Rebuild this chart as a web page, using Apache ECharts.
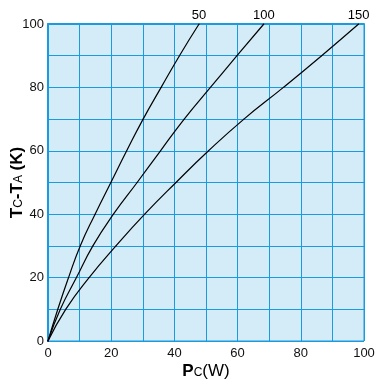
<!DOCTYPE html>
<html>
<head>
<meta charset="utf-8">
<script src="https://cdn.jsdelivr.net/npm/echarts@6/dist/echarts.min.js"></script>
<style>html,body{margin:0;padding:0;background:#fff}#c{width:390px;height:386px}</style>
</head>
<body>
<div id="c"></div>
<script>
var xTicks = [0, 20, 40, 60, 80, 100];
var yTicks = [0, 20, 40, 60, 80, 100];
var curveNames = ['50', '100', '150'];
var curve50X  = [0, 3.1, 6.5, 10.2, 14.9, 19.9, 24.9, 30.1, 35.8, 41.6, 47.8];
var curve50Y  = [0, 10, 20, 30, 40, 50, 60, 70, 80, 90, 100];
var curve100X = [0, 3.9, 9, 14.2, 20.7, 28.2, 35.6, 43.1, 51.4, 59.8, 68.3];
var curve100Y = [0, 10, 20, 30, 40, 50, 60, 70, 80, 90, 100];
var curve150X = [0, 5.6, 13, 21.5, 30.6, 40.5, 50.8, 62, 74.5, 86.6, 98.3];
var curve150Y = [0, 10, 20, 30, 40, 50, 60, 70, 80, 90, 100];

var FONT = '"Liberation Sans", Arial, sans-serif';
var GRIDC = '#1a9be0';

function pts(xs, ys, name) {
  return xs.map(function (x, i) {
    var d = { value: [x, ys[i]] };
    if (i === xs.length - 1) {
      d.label = { show: true, position: 'top', distance: 2, formatter: name,
        color: '#000', fontSize: 13, fontFamily: FONT };
    }
    return d;
  });
}
function mk(xs, ys, name) {
  return {
    type: 'line', smooth: 0.5, symbol: 'circle', symbolSize: 1, showSymbol: true,
    silent: true, clip: false,
    itemStyle: { color: '#000' },
    lineStyle: { color: '#000', width: 1.2 },
    labelLayout: { hideOverlap: false },
    data: pts(xs, ys, name)
  };
}
function lab(v) { return xTicks.indexOf(v) >= 0 ? String(v) : ''; }
function labY(v) { return yTicks.indexOf(v) >= 0 ? String(v) : ''; }

var chart = echarts.init(document.getElementById('c'), null, { renderer: 'canvas' });
chart.setOption({
  animation: false,
  grid: { left: 48, top: 24, right: 26, bottom: 45, show: true, containLabel: false,
    outerBoundsMode: 'none',
    backgroundColor: '#d4ecf8', borderColor: GRIDC, borderWidth: 1 },
  xAxis: [{
    type: 'value', min: 0, max: 100, interval: 10,
    axisLine: { show: false }, axisTick: { show: false },
    splitLine: { show: true, lineStyle: { color: GRIDC, width: 1 } },
    axisLabel: { formatter: lab, color: '#111', fontSize: 13, fontFamily: FONT, margin: 6 },
    name: '{b|P}{s|C}{r|(W)}', nameLocation: 'middle', nameGap: 22, nameMoveOverlap: false,
    nameTextStyle: { rich: {
      b: { fontSize: 17, fontWeight: 'bold', color: '#000', fontFamily: FONT, verticalAlign: 'bottom' },
      s: { fontSize: 12, color: '#000', fontFamily: FONT, verticalAlign: 'bottom', padding: [0, 0, 1, 0] },
      r: { fontSize: 17, color: '#000', fontFamily: FONT, verticalAlign: 'bottom' }
    } }
  }, {
    type: 'value', min: 0, max: 100, position: 'top',
    axisLine: { show: true, lineStyle: { color: GRIDC, width: 2 } },
    axisTick: { show: false }, axisLabel: { show: false }, splitLine: { show: false }
  }],
  yAxis: {
    type: 'value', min: 0, max: 100, interval: 10,
    axisLine: { show: true, lineStyle: { color: GRIDC, width: 2 } }, axisTick: { show: false },
    splitLine: { show: true, lineStyle: { color: GRIDC, width: 1 } },
    axisLabel: { formatter: labY, color: '#111', fontSize: 13, fontFamily: FONT, margin: 4 },
    name: '{b|T}{s|C}{b|-T}{s|A}{b| (K)}', nameLocation: 'middle', nameGap: 22, nameRotate: 90,
    nameMoveOverlap: false,
    nameTextStyle: { rich: {
      b: { fontSize: 17, fontWeight: 'bold', color: '#000', fontFamily: FONT, verticalAlign: 'bottom' },
      s: { fontSize: 12, color: '#000', fontFamily: FONT, verticalAlign: 'bottom', padding: [0, 0, 1, 0] }
    } }
  },
  series: [
    mk(curve50X, curve50Y, curveNames[0]),
    mk(curve100X, curve100Y, curveNames[1]),
    mk(curve150X, curve150Y, curveNames[2])
  ]
});
</script>
</body>
</html>
